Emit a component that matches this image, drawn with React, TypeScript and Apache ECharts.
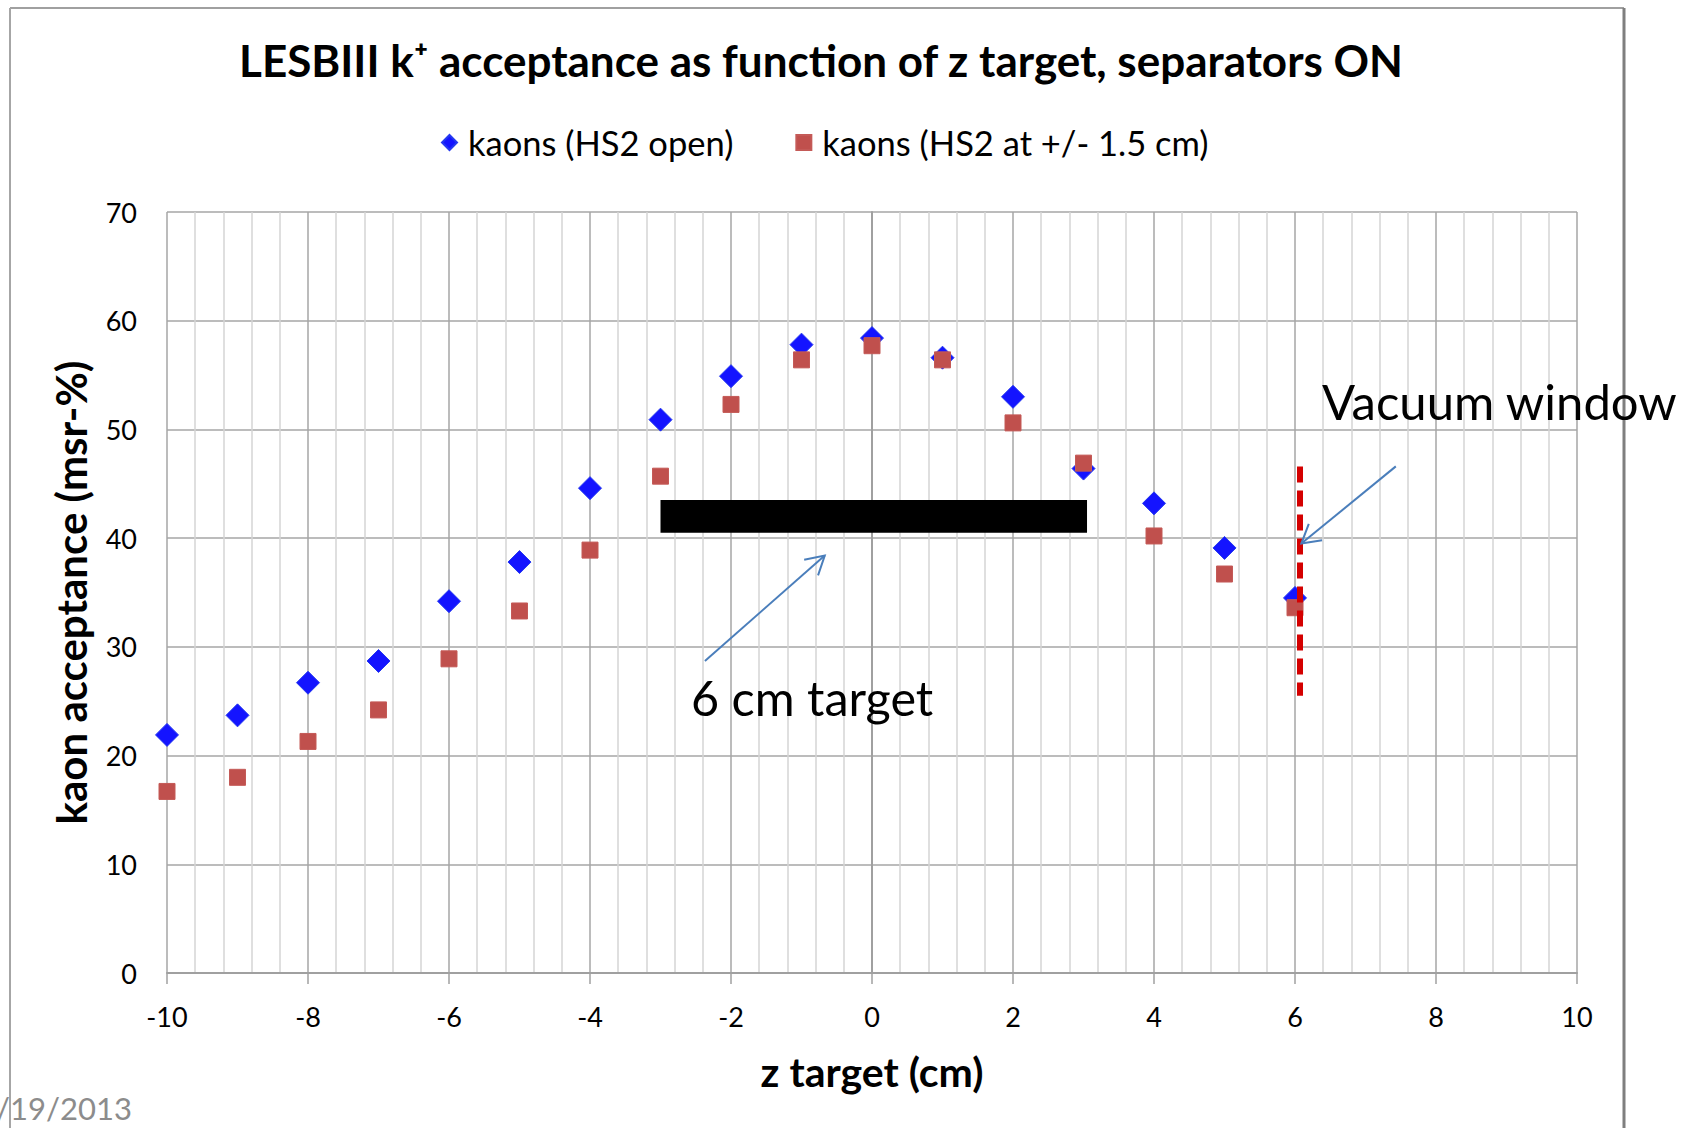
import React, { useEffect, useRef } from "react";
import * as echarts from "echarts";

// ---- data ----
const zTarget = [-10, -9, -8, -7, -6, -5, -4, -3, -2, -1, 0, 1, 2, 3, 4, 5, 6];
const kaonsOpen = [21.9, 23.7, 26.7, 28.7, 34.2, 37.8, 44.6, 50.9, 54.9, 57.8, 58.4, 56.6, 53.0, 46.4, 43.2, 39.1, 34.5];
const kaonsSlit = [16.7, 18.0, 21.3, 24.2, 28.9, 33.3, 38.9, 45.7, 52.3, 56.4, 57.7, 56.4, 50.6, 46.9, 40.2, 36.7, 33.6];
const seriesNames = ["kaons (HS2 open)", "kaons (HS2 at +/- 1.5 cm)"];

// annotation anchors in data units
const targetBar = { zFrom: -3, zTo: 3.05, low: 40.5, high: 43.5 };
const vacuumWindow = { z: 6.07, low: 25.5, high: 46.6 };
const targetArrow = { from: [-2.37, 28.7], to: [-0.67, 38.4] };
const windowArrow = { from: [7.43, 46.6], to: [6.09, 39.5] };

const FONT = "Lato, 'Noto Sans', sans-serif";

export default function App() {
  const ref = useRef<HTMLDivElement>(null);

  useEffect(() => {
    document.body.style.margin = "0";
    const chart = echarts.init(ref.current!, undefined, { renderer: "svg" });
    const option: any = {
      animation: false,
      backgroundColor: "#ffffff",
      title: {
        text: "LESBIII k\u207A acceptance as function of z target, separators ON",
        left: 816,
        top: 33,
        textAlign: "center",
        textStyle: { fontFamily: FONT, fontSize: 44, fontWeight: "bold", color: "#000" },
      },
      legend: {
        left: 436,
        top: 120,
        itemWidth: 15,
        itemHeight: 15,
        itemGap: 62,
        textStyle: { fontFamily: FONT, fontSize: 34.5, color: "#000", padding: [0, 0, 0, 6] },
        data: [
          { name: seriesNames[0], icon: "diamond", itemStyle: { color: "#1414ff" } },
          { name: seriesNames[1], icon: "rect", itemStyle: { color: "#c0504d" } },
        ],
      },
      grid: { left: 167, top: 212, width: 1410, height: 761 },
      xAxis: {
        type: "value",
        min: -10,
        max: 10,
        interval: 2,
        name: "z target (cm)",
        nameLocation: "middle",
        nameGap: 78,
        nameTextStyle: { fontFamily: FONT, fontSize: 41, fontWeight: "bold", color: "#000" },
        axisLine: { show: true, onZero: false, lineStyle: { color: "#a0a0a0", width: 2 } },
        axisTick: { show: true, length: 11, lineStyle: { color: "#a0a0a0", width: 1.5 } },
        axisLabel: { fontFamily: FONT, fontSize: 27, color: "#000", margin: 30 },
        splitLine: { show: true, lineStyle: { color: "#a6a6a6", width: 1.5 } },
        minorTick: { show: false, splitNumber: 5 },
        minorSplitLine: { show: true, lineStyle: { color: "#d4d4d4", width: 1.5 } },
      },
      yAxis: {
        type: "value",
        min: 0,
        max: 70,
        interval: 10,
        name: "kaon acceptance (msr-%)",
        nameLocation: "middle",
        nameGap: 75,
        nameTextStyle: { fontFamily: FONT, fontSize: 42, fontWeight: "bold", color: "#000" },
        axisLine: { show: true, lineStyle: { color: "#a0a0a0", width: 2 } },
        axisTick: { show: false },
        axisLabel: { fontFamily: FONT, fontSize: 27, color: "#000", margin: 30 },
        splitLine: { show: true, lineStyle: { color: "#a6a6a6", width: 1.5 } },
      },
      series: [
        {
          name: seriesNames[0],
          type: "scatter",
          symbol: "diamond",
          symbolSize: 23,
          z: 3,
          itemStyle: { color: "#1414ff", borderColor: "#2438f0", borderWidth: 1, opacity: 1 },
          data: zTarget.map((z, i) => [z, kaonsOpen[i]]),
        },
        {
          name: seriesNames[1],
          type: "scatter",
          symbol: "rect",
          symbolSize: 16,
          z: 4,
          itemStyle: { color: "#c0504d", borderColor: "#c45a57", borderWidth: 1, opacity: 1 },
          data: zTarget.map((z, i) => [z, kaonsSlit[i]]),
          markArea: {
            silent: true,
            itemStyle: { color: "#000000", opacity: 1 },
            data: [[{ coord: [targetBar.zFrom, targetBar.high] }, { coord: [targetBar.zTo, targetBar.low] }]],
          },
          markLine: {
            silent: true,
            symbol: ["none", "none"],
            label: { show: false },
            lineStyle: { color: "#d40000", width: 6, type: [16, 8], opacity: 1 },
            data: [[{ coord: [vacuumWindow.z, vacuumWindow.high] }, { coord: [vacuumWindow.z, vacuumWindow.low] }]],
          },
        },
      ],
    };
    chart.setOption(option);

    const px = (p: number[]) => chart.convertToPixel({ gridIndex: 0 }, p) as number[];
    const arrow = (from: number[], to: number[]) => {
      const a = px(from);
      const b = px(to);
      const dx = a[0] - b[0];
      const dy = a[1] - b[1];
      const len = Math.hypot(dx, dy);
      const ux = dx / len;
      const uy = dy / len;
      const L = 21;
      const ang = (30 * Math.PI) / 180;
      const rot = (s: number) => [
        b[0] + L * (ux * Math.cos(s * ang) - uy * Math.sin(s * ang)),
        b[1] + L * (ux * Math.sin(s * ang) + uy * Math.cos(s * ang)),
      ];
      const style = { stroke: "#4a7ebb", lineWidth: 2, fill: null };
      return [
        { type: "line", shape: { x1: a[0], y1: a[1], x2: b[0], y2: b[1] }, style, z: 10 },
        { type: "polyline", shape: { points: [rot(1), b, rot(-1)] }, style, z: 10 },
      ];
    };

    chart.setOption({
      graphic: [
        // chart frame
        { type: "line", shape: { x1: 10, y1: 8, x2: 1624, y2: 8 }, style: { stroke: "#a0a0a0", lineWidth: 2 } },
        { type: "line", shape: { x1: 10, y1: 8, x2: 10, y2: 1128 }, style: { stroke: "#a6a6a6", lineWidth: 2 } },
        { type: "line", shape: { x1: 1624, y1: 8, x2: 1624, y2: 1128 }, style: { stroke: "#7f7f7f", lineWidth: 3 } },
        ...arrow(targetArrow.from, targetArrow.to),
        ...arrow(windowArrow.from, windowArrow.to),
        {
          type: "text",
          x: 691,
          y: 697,
          z: 10,
          style: { text: "6 cm target", fontFamily: FONT, fontSize: 48.5, fill: "#000", align: "left", verticalAlign: "middle" },
        },
        {
          type: "text",
          x: 1322,
          y: 401,
          z: 10,
          style: { text: "Vacuum window", fontFamily: FONT, fontSize: 49, fill: "#000", align: "left", verticalAlign: "middle" },
        },
        {
          type: "text",
          x: -4,
          y: 1108,
          z: 10,
          style: { text: "/19/2013", fontFamily: FONT, fontSize: 31, fill: "#8c8c8c", align: "left", verticalAlign: "middle" },
        },
      ],
    });

    return () => chart.dispose();
  }, []);

  return <div ref={ref} style={{ position: "fixed", left: 0, top: 0, width: 1682, height: 1128 }} />;
}
